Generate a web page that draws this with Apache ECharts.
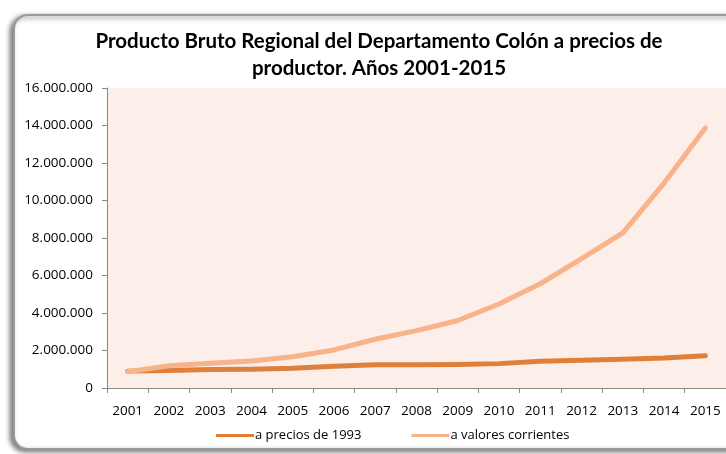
<!DOCTYPE html>
<html><head><meta charset="utf-8">
<script src="https://cdn.jsdelivr.net/npm/echarts@6/dist/echarts.min.js"></script>
<style>html,body{margin:0;padding:0;background:#fff}#c{width:726px;height:454px}</style>
</head><body><div id="c"></div>
<script>
const years = ['2001','2002','2003','2004','2005','2006','2007','2008','2009','2010','2011','2012','2013','2014','2015'];
const precios1993 = [900000, 930000, 990000, 1000000, 1050000, 1160000, 1240000, 1240000, 1250000, 1300000, 1430000, 1480000, 1530000, 1600000, 1720000];
const corrientes = [870000, 1190000, 1320000, 1440000, 1670000, 2030000, 2600000, 3060000, 3600000, 4480000, 5560000, 6900000, 8270000, 10930000, 13870000];
const seriesNames = ['a precios de 1993', 'a valores corrientes'];
const yTicks = {min: 0, max: 16000000, interval: 2000000};

function fmt(v){ return String(v).replace(/\B(?=(\d{3})+(?!\d))/g, '.'); }

const chart = echarts.init(document.getElementById('c'), null, {renderer:'canvas'});
chart.setOption({
  backgroundColor: '#fff',
  animation: false,
  graphic: [{
    type: 'rect', z: -10,
    shape: {x: 14, y: 15, width: 760, height: 434, r: 14},
    style: {fill: '#fff', stroke: '#9a9a9a', lineWidth: 2, shadowBlur: 5, shadowColor: 'rgba(0,0,0,0.5)', shadowOffsetX: -3, shadowOffsetY: 2}
  }],
  title: {
    text: 'Producto Bruto Regional del Departamento Colón a precios de\nproductor. Años 2001-2015',
    left: 374, top: 23, textAlign: 'center',
    textStyle: {fontFamily: 'Lato', fontWeight: 'bold', fontSize: 20.5, color: '#000', lineHeight: 27}
  },
  legend: {
    bottom: 7, left: 211, itemGap: 50, itemWidth: 38, itemHeight: 3, icon: 'rect',
    textStyle: {fontFamily: 'Open Sans', fontSize: 13, color: '#000', padding: [0,0,0,-4]},
    data: seriesNames
  },
  grid: {left: 107, right: -3, top: 88, bottom: 66, show: true, backgroundColor: '#FCEEE8', borderWidth: 0},
  xAxis: {
    type: 'category', data: years, boundaryGap: true,
    axisLine: {lineStyle: {color: '#888', width: 1}},
    axisTick: {show: true, length: 5, lineStyle: {color: '#888'}},
    axisLabel: {fontFamily: 'Open Sans', fontSize: 13.5, color: '#000', margin: 16}
  },
  yAxis: {
    type: 'value', min: yTicks.min, max: yTicks.max, interval: yTicks.interval,
    axisLine: {show: true, lineStyle: {color: '#888', width: 1}},
    axisTick: {show: true, length: 5, lineStyle: {color: '#888'}},
    splitLine: {show: false},
    axisLabel: {fontFamily: 'Open Sans', fontSize: 13.5, color: '#000', margin: 14, formatter: fmt}
  },
  series: [
    {name: seriesNames[0], type: 'line', data: precios1993, symbol: 'none', color: '#DF7F3A',
     lineStyle: {width: 5, color: '#DF7F3A', cap: 'round', join: 'round'}},
    {name: seriesNames[1], type: 'line', data: corrientes, symbol: 'none', color: '#F8B38A',
     lineStyle: {width: 5, color: '#F8B38A', cap: 'round', join: 'round'}}
  ]
});
</script></body></html>
